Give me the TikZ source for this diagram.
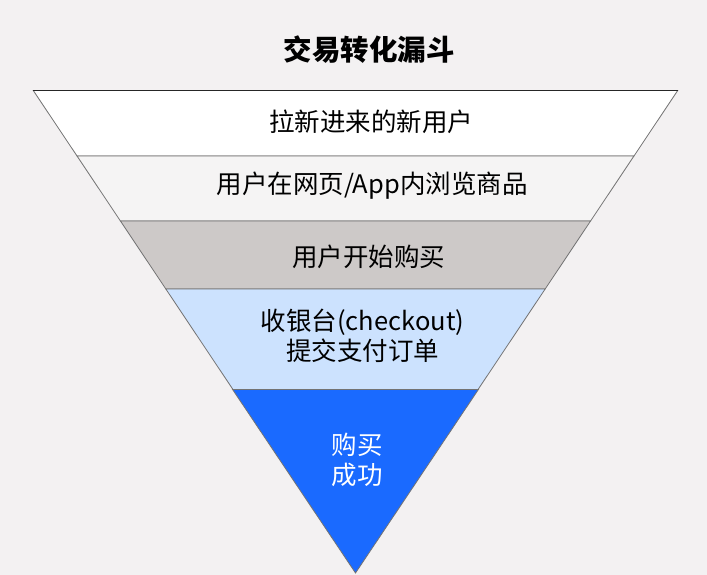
\documentclass[tikz,border=0pt]{standalone}
\usepackage{fontspec}
\setmainfont{Noto Sans CJK SC}
\usetikzlibrary{positioning}
\definecolor{bg}{HTML}{F3F1F2}
\definecolor{bandtwo}{HTML}{F5F4F4}
\definecolor{bandthree}{HTML}{CDC9C8}
\definecolor{bandfour}{HTML}{CCE2FE}
\definecolor{bandfive}{HTML}{1A6AFF}

\begin{document}
\begin{tikzpicture}
  [x=1pt, y=-1pt,
   band/.style={draw=black!55, line width=0.8pt},
   stage/.style={font=\fontsize{25.5}{30}\selectfont, align=center, inner sep=0pt}]
  \fill[bg] (0,0) rectangle (707,575);
  % funnel bands, top to bottom
  \foreach \ya/\yb/\col in {90.5/156/white, 156/221/bandtwo, 221/289/bandthree, 289/389.5/bandfour}{
    \pgfmathsetmacro{\la}{355.5-0.6678*(573-\ya)}
    \pgfmathsetmacro{\ra}{355.5+0.6678*(573-\ya)}
    \pgfmathsetmacro{\lb}{355.5-0.6678*(573-\yb)}
    \pgfmathsetmacro{\rb}{355.5+0.6678*(573-\yb)}
    \filldraw[band, fill=\col] (\la,\ya) -- (\ra,\ya) -- (\rb,\yb) -- (\lb,\yb) -- cycle;
  }
  \draw[line width=0.9pt, black!85] (33.3,90.5) -- (677.7,90.5);
  \filldraw[band, fill=bandfive] (232.6,389.5) -- (478.4,389.5) -- (355.5,573) -- cycle;
  \node (title) at (369,50) [font=\fontsize{28.5}{34}\selectfont\bfseries] {交易转化漏斗};
  \node (new) at (371,122) [stage] {拉新进来的新用户};
  \node (browse) at (372,186) [stage] {用户在网页/App内浏览商品};
  \node (buy) at (368.5,257) [stage] {用户开始购买};
  \node (checkout) at (362.5,335.5) [stage] {收银台(checkout)\\提交支付订单};
  \node (done) at (357,460) [stage, text=white] {购买\\成功};
\end{tikzpicture}
\end{document}
